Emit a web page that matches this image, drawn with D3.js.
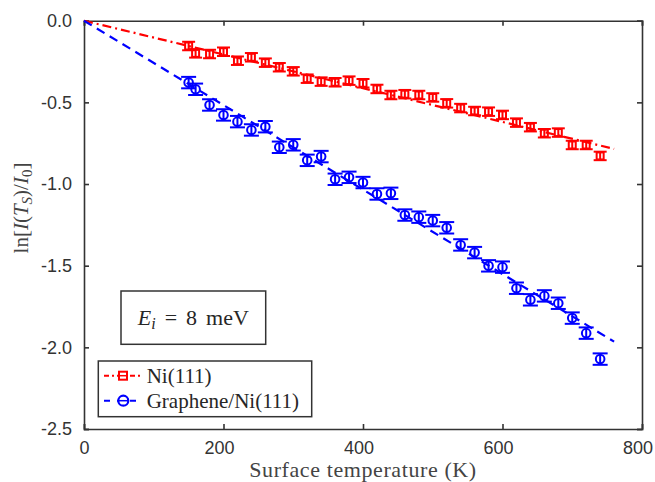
<!DOCTYPE html>
<html>
<head>
<meta charset="utf-8">
<script src="https://cdn.jsdelivr.net/npm/d3@7"></script>
<style>
  body { margin: 0; background: #fff; }
  svg { display: block; }
  .tick text { font-family: "Liberation Sans", Arial, sans-serif; font-size: 18px; fill: #333; }
  .tick line, .domain { stroke: #333; }
  .serif { font-family: "Liberation Serif", "Times New Roman", serif; fill: #262626; }
</style>
</head>
<body>
<script>
// surface temperature (K)
var temps = [150, 160, 180, 200, 220, 240, 260, 280, 300, 320, 340, 360, 380, 400, 420, 440,
             460, 480, 500, 520, 540, 560, 580, 600, 620, 640, 660, 680, 700, 720, 740];
// ln[I(Ts)/I0] for Ni(111)
var niVals = [-0.155, -0.200, -0.204, -0.190, -0.245, -0.224, -0.257, -0.285, -0.310, -0.355, -0.373,
              -0.377, -0.367, -0.383, -0.418, -0.455, -0.450, -0.455, -0.470, -0.506, -0.535, -0.553,
              -0.557, -0.577, -0.624, -0.652, -0.689, -0.685, -0.761, -0.761, -0.828];
var niErr = [0.026, 0.026, 0.026, 0.026, 0.026, 0.026, 0.026, 0.026, 0.026, 0.026, 0.026,
             0.026, 0.026, 0.026, 0.026, 0.026, 0.026, 0.026, 0.026, 0.026, 0.026, 0.026,
             0.026, 0.026, 0.026, 0.026, 0.026, 0.026, 0.026, 0.026, 0.026];
// ln[I(Ts)/I0] for graphene/Ni(111)
var grVals = [-0.379, -0.420, -0.516, -0.577, -0.618, -0.669, -0.649, -0.775, -0.760, -0.855, -0.832,
              -0.971, -0.959, -0.991, -1.061, -1.057, -1.190, -1.203, -1.224, -1.268, -1.373, -1.420,
              -1.501, -1.509, -1.638, -1.709, -1.685, -1.730, -1.821, -1.913, -2.072];
var grErr = [0.035, 0.035, 0.035, 0.035, 0.035, 0.035, 0.035, 0.035, 0.035, 0.035, 0.035,
             0.035, 0.035, 0.035, 0.035, 0.035, 0.035, 0.035, 0.035, 0.035, 0.035, 0.035,
             0.035, 0.035, 0.035, 0.035, 0.035, 0.035, 0.035, 0.035, 0.035];
// linear fits through the origin
var fitT = [0, 760];
var fitNi = [0, -0.785];
var fitGr = [0, -1.965];

var xTicks = [0, 200, 400, 600, 800];
var yTicks = [0, -0.5, -1.0, -1.5, -2.0, -2.5];
var legendNames = ['Ni(111)', 'Graphene/Ni(111)'];

var red = '#ff0000', blue = '#0000ff';
var W = 655, H = 482;
var mLeft = 84, mRight = 642, mTop = 20.7, mBottom = 429;

var svg = d3.select('body').append('svg').attr('width', W).attr('height', H);

var x = d3.scaleLinear().domain([0, 800]).range([mLeft, mRight]);
var y = d3.scaleLinear().domain([-2.5, 0]).range([mBottom, mTop]);

// axes, ticks inward on all four sides
var xAx = svg.append('g').attr('transform', 'translate(0,' + mBottom + ')')
    .call(d3.axisBottom(x).tickValues(xTicks).tickSize(-5).tickPadding(12).tickFormat(d3.format('d')));
xAx.selectAll('.tick text').attr('dx', function(d) { return d > 0 ? -4.5 : 0; });
svg.append('g').attr('transform', 'translate(0,' + mTop + ')')
    .call(d3.axisTop(x).tickValues(xTicks).tickSize(-5).tickFormat(''));
svg.append('g').attr('transform', 'translate(' + mLeft + ',0)')
    .call(d3.axisLeft(y).tickValues(yTicks).tickSize(-5).tickPadding(12).tickFormat(function(d) { return d.toFixed(1); }));
svg.append('g').attr('transform', 'translate(' + mRight + ',0)')
    .call(d3.axisRight(y).tickValues(yTicks).tickSize(-5).tickFormat(''));
svg.selectAll('.domain').attr('stroke-width', 1.6);
svg.selectAll('.tick line').attr('stroke-width', 1.6);

var line = d3.line().x(function(d) { return x(d[0]); }).y(function(d) { return y(d[1]); });

// error bars + markers
function drawSeries(vals, errs, color, capHalf, shape) {
    var g = svg.append('g').attr('stroke', color).attr('fill', 'none').attr('stroke-width', 2);
    temps.forEach(function(t, i) {
        var cx = x(t), cy = y(vals[i]);
        var y1 = y(vals[i] + errs[i]), y2 = y(vals[i] - errs[i]);
        g.append('line').attr('x1', cx).attr('x2', cx).attr('y1', y1).attr('y2', y2);
        g.append('line').attr('x1', cx - capHalf).attr('x2', cx + capHalf).attr('y1', y1).attr('y2', y1);
        g.append('line').attr('x1', cx - capHalf).attr('x2', cx + capHalf).attr('y1', y2).attr('y2', y2);
        if (shape == 'square') {
            g.append('rect').attr('x', cx - 3.5).attr('y', cy - 3.5).attr('width', 7).attr('height', 7);
        } else {
            g.append('circle').attr('cx', cx).attr('cy', cy).attr('r', 4.3);
        }
    });
}
drawSeries(niVals, niErr, red, 6.5, 'square');
drawSeries(grVals, grErr, blue, 7.5, 'circle');

// fit lines
svg.append('path').datum(d3.zip(fitT, fitNi)).attr('d', line)
    .attr('fill', 'none').attr('stroke', red).attr('stroke-width', 2.2).attr('stroke-dasharray', '9,4,2,4');
svg.append('path').datum(d3.zip(fitT, fitGr)).attr('d', line)
    .attr('fill', 'none').attr('stroke', blue).attr('stroke-width', 2.2).attr('stroke-dasharray', '9,6');

// axis labels
svg.append('text').attr('class', 'serif').attr('x', (mLeft + mRight) / 2).attr('y', 477)
    .attr('text-anchor', 'middle').style('font-size', '22px').style('letter-spacing', '0.6px').style('fill', '#444')
    .text('Surface temperature (K)');

var yl = svg.append('text').attr('class', 'serif')
    .attr('transform', 'translate(28,208) rotate(-90)')
    .attr('text-anchor', 'middle').style('font-size', '21px').style('fill', '#444');
yl.append('tspan').text('ln[');
yl.append('tspan').style('font-style', 'italic').text('I');
yl.append('tspan').text('(');
yl.append('tspan').style('font-style', 'italic').text('T');
yl.append('tspan').style('font-style', 'italic').style('font-size', '15px').attr('dy', 4).text('S');
yl.append('tspan').attr('dy', -4).text(')/');
yl.append('tspan').style('font-style', 'italic').text('I');
yl.append('tspan').style('font-size', '15px').attr('dy', 4).text('0');
yl.append('tspan').attr('dy', -4).text(']');

// annotation box
svg.append('rect').attr('x', 121).attr('y', 291).attr('width', 144.7).attr('height', 53.3)
    .attr('fill', '#fff').attr('stroke', '#333').attr('stroke-width', 1.5);
var ann = svg.append('text').attr('class', 'serif').attr('x', 193.3).attr('y', 324.5)
    .attr('text-anchor', 'middle').style('font-size', '22px');
ann.append('tspan').style('font-style', 'italic').text('E');
ann.append('tspan').style('font-style', 'italic').style('font-size', '16px').attr('dy', 4).text('i');
ann.append('tspan').attr('dy', -4).attr('dx', 9).text('=');
ann.append('tspan').attr('dx', 9).text('8');
ann.append('tspan').attr('dx', 9).text('meV');

// legend
var lg = svg.append('g');
lg.append('rect').attr('x', 98.3).attr('y', 361).attr('width', 213.4).attr('height', 55.7)
    .attr('fill', '#fff').attr('stroke', '#333').attr('stroke-width', 1.5);
var legRows = [
    {name: legendNames[0], color: red, dash: '5,3,2,3', shape: 'square', yy: 375.7},
    {name: legendNames[1], color: blue, dash: '6,7', shape: 'circle', yy: 400.7}
];
legRows.forEach(function(r) {
    lg.append('line').attr('x1', 104).attr('x2', 142).attr('y1', r.yy).attr('y2', r.yy)
        .attr('stroke', r.color).attr('stroke-width', 2).attr('stroke-dasharray', r.dash);
    if (r.shape == 'square') {
        lg.append('rect').attr('x', 119).attr('y', r.yy - 4).attr('width', 8).attr('height', 8)
            .attr('fill', '#fff').attr('stroke', r.color).attr('stroke-width', 2);
        lg.append('line').attr('x1', 119).attr('x2', 127).attr('y1', r.yy).attr('y2', r.yy)
            .attr('stroke', r.color).attr('stroke-width', 1.5);
    } else {
        lg.append('circle').attr('cx', 123.3).attr('cy', r.yy).attr('r', 5)
            .attr('fill', '#fff').attr('stroke', r.color).attr('stroke-width', 2.2);
        lg.append('line').attr('x1', 119).attr('x2', 128).attr('y1', r.yy).attr('y2', r.yy)
            .attr('stroke', r.color).attr('stroke-width', 1.5);
    }
    lg.append('text').attr('class', 'serif').attr('x', 146.7).attr('y', r.yy + 7.5)
        .style('font-size', '21px').text(r.name);
});
</script>
</body>
</html>
